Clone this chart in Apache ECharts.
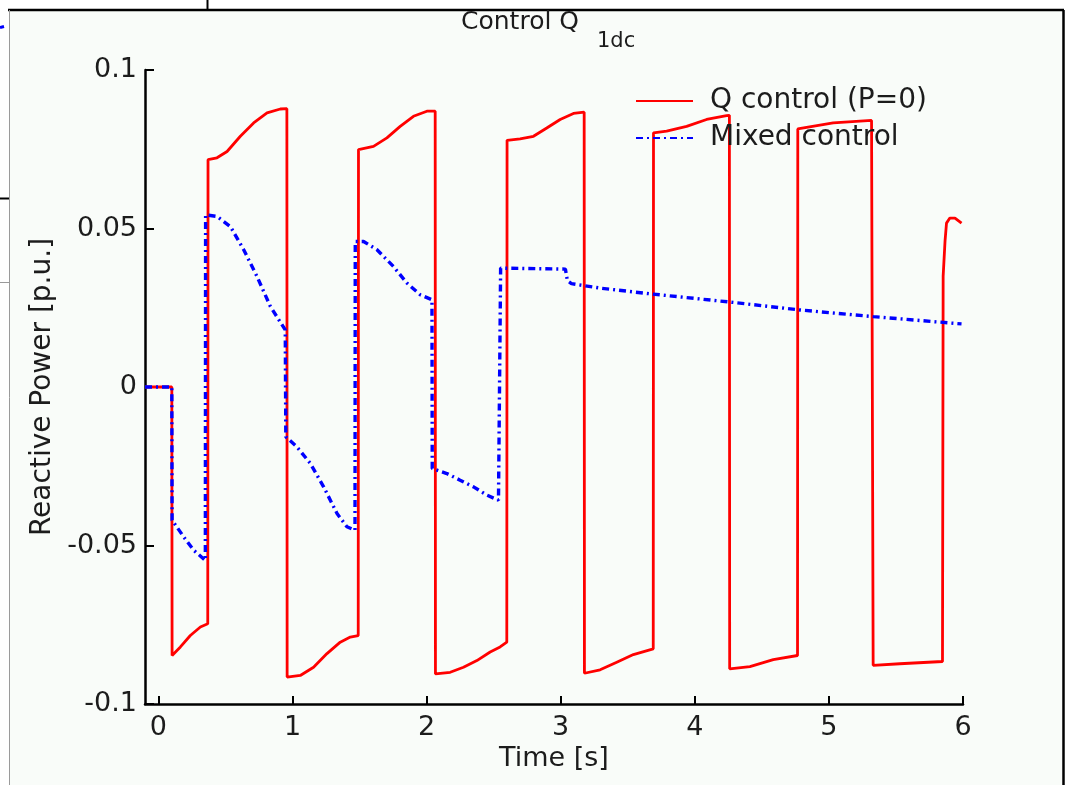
<!DOCTYPE html>
<html>
<head>
<meta charset="utf-8">
<script src="https://cdn.jsdelivr.net/npm/echarts@6/dist/echarts.min.js"></script>
<style>
html,body{margin:0;padding:0;background:#ffffff;}
#chart{width:1067px;height:785px;}
</style>
</head>
<body>
<div id="chart"></div>
<script>
// ---- data ----
const xTicks = [0, 1, 2, 3, 4, 5, 6];
const yTicks = [-0.1, -0.05, 0, 0.05, 0.1];
const seriesNames = ['Q control (P=0)', 'Mixed control'];
const titleMain = 'Control Q';
const titleSub = '1dc';

const qControlT = [-0.1, 0.1, 0.102, 0.164, 0.238, 0.313, 0.368, 0.37, 0.437, 0.512, 0.611, 0.71, 0.81, 0.909, 0.958,
  0.96, 1.058, 1.157, 1.257, 1.356, 1.431, 1.49, 1.492, 1.604, 1.704, 1.803, 1.902, 2.002, 2.064,
  2.066, 2.176, 2.275, 2.375, 2.474, 2.548, 2.598, 2.6, 2.697, 2.797, 2.896, 2.996, 3.095, 3.175,
  3.177, 3.294, 3.418, 3.542, 3.69, 3.692, 3.79, 3.939, 4.088, 4.237, 4.258,
  4.26, 4.411, 4.585, 4.766, 4.768, 5.032, 5.318, 5.328,
  5.33, 5.529, 5.847, 5.852, 5.866, 5.877, 5.902, 5.94, 5.989];
const qControlV = [0, 0, -0.0847, -0.082, -0.0784, -0.0757, -0.0747, 0.0717, 0.0723, 0.0743, 0.0791, 0.0833, 0.0865, 0.0877, 0.0878,
  -0.0915, -0.091, -0.0884, -0.0841, -0.0805, -0.0789, -0.0784, 0.0749, 0.0759, 0.0786, 0.0822, 0.0854, 0.087, 0.087,
  -0.0905, -0.09, -0.0884, -0.0863, -0.0836, -0.082, -0.0805, 0.0778, 0.0783, 0.0791, 0.0817, 0.0844, 0.0863, 0.0867,
  -0.0903, -0.0892, -0.0868, -0.0844, -0.0826, 0.0802, 0.0807, 0.0822, 0.0844, 0.0856, 0.0857,
  -0.0889, -0.0882, -0.086, -0.0847, 0.0814, 0.0833, 0.0841, 0.0841,
  -0.0878, -0.0873, -0.0866, 0.035, 0.046, 0.0517, 0.0533, 0.0533, 0.0517];

const mixedT = [-0.1, 0.1, 0.102, 0.189, 0.263, 0.35, 0.352, 0.437, 0.537, 0.636, 0.735, 0.835, 0.946,
  0.95, 1.033, 1.133, 1.232, 1.332, 1.406, 1.466, 1.468, 1.53, 1.63, 1.753, 1.853, 1.952, 2.04,
  2.042, 2.151, 2.25, 2.35, 2.449, 2.536, 2.55, 2.552, 3.035, 3.05, 3.08, 3.294, 3.666, 4.262, 4.784, 5.33, 5.989];
const mixedV = [0, 0, -0.042, -0.0473, -0.0515, -0.0547, 0.0543, 0.0538, 0.0506, 0.0433, 0.0349, 0.0254, 0.018,
  -0.0157, -0.0189, -0.0241, -0.0315, -0.0399, -0.0441, -0.0452, 0.0459, 0.0459, 0.0433, 0.038, 0.0328, 0.0291, 0.0275,
  -0.0257, -0.0273, -0.0294, -0.0315, -0.0341, -0.0357, -0.0357, 0.0375, 0.0372, 0.0335, 0.0326, 0.0312, 0.0294, 0.0268, 0.0243, 0.0222, 0.0199];

const zip = (t, v) => t.map((x, i) => [x, v[i]]);

const FONT = 'DejaVu Sans';
const TXT = '#1c1c1c';

const chart = echarts.init(document.getElementById('chart'), null, {renderer: 'canvas'});
chart.setOption({
  animation: false,
  backgroundColor: '#ffffff',
  graphic: [
    {type: 'rect', z: -10, shape: {x: 9, y: 10, width: 1054, height: 780}, style: {fill: '#f9fcf9'}},
    {type: 'line', z: -9, shape: {x1: 8, y1: 10, x2: 1064, y2: 10}, style: {stroke: '#000', lineWidth: 2.5}},
    {type: 'line', z: -9, shape: {x1: 1063.5, y1: 10, x2: 1063.5, y2: 785}, style: {stroke: '#000', lineWidth: 2.5}},
    {type: 'line', z: -9, shape: {x1: 9.5, y1: 10, x2: 9.5, y2: 785}, style: {stroke: '#9a9a9a', lineWidth: 1}},
    {type: 'line', z: -9, shape: {x1: 207.5, y1: 0, x2: 207.5, y2: 10}, style: {stroke: '#000', lineWidth: 2}},
    {type: 'line', z: -9, shape: {x1: 0, y1: 198.5, x2: 9, y2: 198.5}, style: {stroke: '#000', lineWidth: 2}},
    {type: 'line', z: -9, shape: {x1: 0, y1: 282.5, x2: 9, y2: 282.5}, style: {stroke: '#9a9a9a', lineWidth: 1}},
    {type: 'line', z: -9, shape: {x1: 0, y1: 27.5, x2: 4, y2: 26.5}, style: {stroke: '#0000ff', lineWidth: 3}}
  ],
  title: [
    {
      text: titleMain,
      left: 461,
      top: 10,
      padding: 0,
      textStyle: {fontFamily: FONT, fontSize: 25, fontWeight: 'normal', color: TXT}
    },
    {
      text: titleSub,
      left: 597,
      top: 31,
      padding: 0,
      textStyle: {fontFamily: FONT, fontSize: 21, fontWeight: 'normal', color: TXT}
    }
  ],
  legend: {
    orient: 'vertical',
    left: 635,
    top: 86,
    padding: 0,
    itemWidth: 57,
    itemHeight: 14,
    itemGap: 7,
    data: seriesNames,
    itemStyle: {opacity: 0},
    textStyle: {fontFamily: FONT, fontSize: 28, color: TXT, padding: [0, 0, 0, 12], lineHeight: 30}
  },
  grid: {left: 145, right: 104, top: 70, bottom: 81, containLabel: false},
  xAxis: {
    type: 'value',
    min: -0.1,
    max: 6,
    name: 'Time [s]',
    nameLocation: 'middle',
    nameGap: 40,
    nameTextStyle: {fontFamily: FONT, fontSize: 27, color: TXT},
    axisLine: {show: true, onZero: false, lineStyle: {color: '#000', width: 2.5}},
    axisTick: {show: true, inside: true, length: 8, customValues: xTicks, lineStyle: {color: '#000', width: 2}},
    axisLabel: {customValues: xTicks, fontFamily: FONT, fontSize: 27, color: TXT, margin: 10},
    splitLine: {show: false}
  },
  yAxis: {
    type: 'value',
    min: -0.1,
    max: 0.1,
    interval: 0.05,
    name: 'Reactive Power [p.u.]',
    nameLocation: 'middle',
    nameRotate: 90,
    nameGap: 88,
    nameTextStyle: {fontFamily: FONT, fontSize: 28, color: TXT},
    axisLine: {show: true, onZero: false, lineStyle: {color: '#000', width: 2.5}},
    axisTick: {show: true, inside: true, length: 9, lineStyle: {color: '#000', width: 2}},
    axisLabel: {fontFamily: FONT, fontSize: 27, color: TXT, margin: 8,
      formatter: v => { const m = yTicks.find(t => Math.abs(t - v) < 1e-9); return String(m === undefined ? v : m); }},
    splitLine: {show: false}
  },
  series: [
    {
      name: seriesNames[0],
      type: 'line',
      symbol: 'none',
      showSymbol: false,
      data: zip(qControlT, qControlV),
      lineStyle: {color: '#ff0000', width: 2.8},
      itemStyle: {color: '#ff0000'},
      z: 2
    },
    {
      name: seriesNames[1],
      type: 'line',
      symbol: 'none',
      showSymbol: false,
      data: zip(mixedT, mixedV),
      lineStyle: {color: '#0000ff', width: 3.4, type: [7, 4, 2, 4]},
      itemStyle: {color: '#0000ff'},
      z: 3
    }
  ]
});
</script>
</body>
</html>
